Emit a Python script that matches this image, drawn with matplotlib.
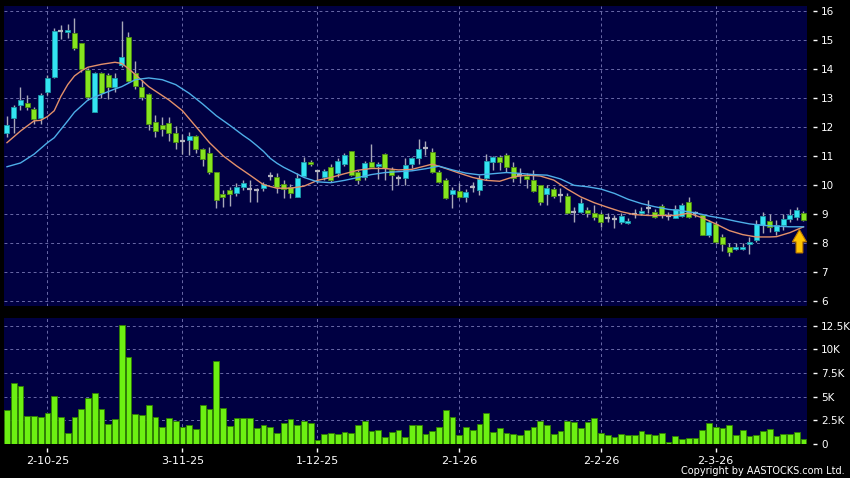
import numpy as np
import matplotlib
matplotlib.use("Agg")
import matplotlib.pyplot as plt
from matplotlib.patches import FancyArrow
from matplotlib.ticker import FuncFormatter

# daily candles, index 0 = first bar on the chart
opens = [11.77, 12.29, 12.75, 12.80, 12.60, 12.29, 13.18, 13.73, 15.31, 15.25,
         15.22, 14.87, 13.95, 12.52, 13.84, 13.77, 13.36, 14.13, 15.08, 13.86,
         13.36, 13.12, 12.17, 12.05, 12.12, 11.77, 11.51, 11.54, 11.69, 11.22,
         11.08, 10.43, 9.68, 9.82, 9.70, 9.91, 9.84, 9.82, 9.88, 10.31,
         10.28, 10.01, 9.93, 9.59, 10.31, 10.79, 10.48, 10.25, 10.60, 10.39,
         10.70, 11.15, 10.43, 10.28, 10.80, 10.64, 11.06, 10.51, 10.22, 10.22,
         10.70, 10.91, 11.25, 11.14, 10.43, 10.15, 9.67, 9.79, 9.56, 9.93,
         9.82, 10.22, 10.79, 10.94, 11.02, 10.62, 10.35, 10.30, 10.16, 9.99,
         9.67, 9.85, 9.64, 9.62, 9.07, 9.07, 9.12, 9.01, 8.99, 8.87,
         8.82, 8.72, 8.67, 8.99, 9.01, 9.21, 9.07, 9.28, 8.93, 8.87,
         8.92, 9.41, 9.02, 8.96, 8.27, 8.64, 8.21, 7.84, 7.77, 7.77,
         7.94, 8.08, 8.60, 8.74, 8.41, 8.61, 8.81, 8.90, 9.02]
highs = [12.37, 12.75, 13.38, 13.09, 12.69, 13.15, 13.78, 15.39, 15.50, 15.55,
         15.74, 14.90, 14.01, 13.90, 13.90, 13.84, 13.84, 15.66, 15.28, 14.27,
         13.61, 13.15, 12.40, 12.32, 12.32, 12.03, 11.75, 11.83, 11.72, 11.25,
         11.30, 10.45, 9.82, 9.92, 10.06, 10.18, 10.15, 9.90, 10.10, 10.45,
         10.40, 10.16, 10.01, 10.40, 10.94, 10.85, 10.50, 10.54, 10.72, 10.91,
         11.08, 11.17, 10.50, 10.82, 11.40, 10.79, 11.08, 10.62, 10.33, 10.91,
         10.97, 11.58, 11.50, 11.25, 10.50, 10.22, 9.93, 10.05, 9.85, 10.10,
         10.33, 11.05, 11.00, 11.02, 11.08, 10.79, 10.56, 10.39, 10.51, 10.00,
         9.99, 9.93, 9.87, 9.70, 9.24, 9.53, 9.24, 9.30, 9.07, 9.01,
         8.95, 9.01, 8.87, 9.18, 9.24, 9.47, 9.18, 9.33, 9.07, 9.30,
         9.36, 9.59, 9.10, 9.00, 8.80, 8.75, 8.30, 8.00, 8.00, 8.00,
         8.20, 8.78, 9.05, 9.00, 8.78, 9.00, 9.15, 9.22, 9.10]
lows = [11.63, 11.77, 12.58, 12.58, 12.11, 12.11, 13.09, 13.67, 15.02, 15.05,
        14.64, 13.90, 12.92, 12.52, 12.98, 12.94, 13.21, 14.05, 13.55, 13.30,
        12.92, 11.88, 11.66, 11.67, 11.49, 11.23, 11.05, 11.02, 11.10, 10.66,
        10.38, 9.20, 9.24, 9.28, 9.60, 9.82, 9.40, 9.40, 9.80, 10.16,
        9.72, 9.53, 9.53, 9.59, 10.27, 10.65, 10.05, 10.16, 10.10, 10.27,
        10.64, 10.30, 10.01, 10.16, 10.60, 10.20, 10.16, 9.82, 9.99, 9.99,
        10.56, 10.70, 11.02, 10.39, 10.05, 9.51, 9.21, 9.53, 9.41, 9.76,
        9.65, 10.16, 10.51, 10.51, 10.45, 10.10, 10.05, 9.88, 9.76, 9.30,
        9.30, 9.53, 9.41, 8.98, 8.72, 9.01, 8.90, 8.79, 8.55, 8.72,
        8.50, 8.64, 8.64, 8.84, 8.95, 9.01, 8.84, 8.84, 8.79, 8.84,
        8.88, 8.84, 8.90, 8.25, 8.20, 7.95, 7.70, 7.55, 7.75, 7.75,
        7.60, 8.03, 8.32, 8.38, 8.27, 8.43, 8.72, 8.80, 8.75]
closes = [12.06, 12.67, 12.92, 12.67, 12.25, 13.08, 13.69, 15.31, 15.31, 15.33,
          14.70, 13.98, 13.03, 13.84, 13.15, 13.36, 13.69, 14.39, 13.58, 13.40,
          13.03, 12.08, 11.85, 11.93, 11.77, 11.46, 11.51, 11.68, 11.22, 10.88,
          10.43, 9.47, 9.57, 9.68, 9.91, 10.05, 9.84, 9.82, 10.02, 10.31,
          9.91, 9.85, 9.70, 10.22, 10.79, 10.70, 10.48, 10.46, 10.18, 10.82,
          11.02, 10.33, 10.16, 10.75, 10.62, 10.72, 10.56, 10.33, 10.22, 10.68,
          10.91, 11.22, 11.25, 10.43, 10.10, 9.53, 9.82, 9.56, 9.76, 9.93,
          10.19, 10.82, 10.94, 10.79, 10.62, 10.22, 10.35, 10.19, 9.79, 9.42,
          9.87, 9.62, 9.64, 9.04, 9.07, 9.36, 9.01, 8.90, 8.72, 8.87,
          8.82, 8.93, 8.76, 8.99, 9.11, 9.21, 8.90, 8.96, 8.93, 9.18,
          9.30, 8.90, 9.02, 8.27, 8.72, 8.03, 7.96, 7.67, 7.84, 7.86,
          8.01, 8.64, 8.91, 8.56, 8.60, 8.81, 8.95, 9.13, 8.77]
volumes = [3600, 6500, 6140, 2970, 2970, 2820, 3250, 5080, 2890, 1200,
           2820, 3710, 4910, 5370, 3670, 2120, 2650, 12600, 9250, 3180,
           3070, 4130, 2820, 1770, 2720, 2470, 1840, 2050, 1550, 4130,
           3670, 8790, 3850, 1940, 2750, 2720, 2790, 1660, 1980, 1840,
           1200, 2260, 2650, 2010, 2470, 2220, 420, 1060, 1160, 1020,
           1240, 1130, 2010, 2400, 1340, 1450, 710, 1270, 1520, 710,
           2010, 2040, 1050, 1335, 1760, 3560, 2850, 980, 1790, 1440,
           2110, 3280, 1300, 1690, 1190, 1090, 910, 1480, 1830, 2460,
           1970, 1090, 1410, 2460, 2320, 1720, 2320, 2750, 1120, 980,
           730, 1020, 910, 910, 1410, 1050, 980, 1160, 200, 800,
           490, 630, 630, 1480, 2220, 1790, 1690, 2040, 980, 1440,
           840, 980, 1410, 1580, 800, 1090, 1090, 1270, 560]

# moving averages (bar index, price)
ma10_idx = [0, 2, 4, 5, 6, 7, 8, 9, 10, 11, 12, 14, 16, 17, 18, 19, 21, 24, 26, 28,
            30, 32, 34, 36, 38, 40, 42, 44, 46, 48, 50, 52, 54, 56, 58, 60, 62, 63, 65, 67,
            69, 71, 73, 75, 77, 79, 81, 83, 85, 87, 89, 91, 93, 95, 97, 99, 101, 103, 105, 107,
            109, 111, 113, 114, 116, 118]
ma10_val = [11.45, 11.85, 12.20, 12.22, 12.35, 12.55, 13.05, 13.45, 13.75, 13.92, 14.05, 14.15,
            14.22, 14.18, 14.00, 13.80, 13.38, 12.92, 12.55, 12.00, 11.45, 11.00, 10.65, 10.33,
            10.00, 9.88, 9.88, 9.95, 10.15, 10.25, 10.38, 10.50, 10.56, 10.56, 10.51, 10.53,
            10.65, 10.71, 10.56, 10.40, 10.25, 10.15, 10.12, 10.27, 10.33, 10.30, 10.16, 9.85,
            9.58, 9.38, 9.22, 9.07, 8.97, 8.94, 8.94, 8.94, 9.02, 8.86, 8.65, 8.42, 8.28, 8.20,
            8.20, 8.21, 8.35, 8.55]
ma20_idx = [0, 2, 4, 6, 7, 9, 10, 12, 14, 16, 17, 19, 21, 23, 25, 27, 29, 31, 33, 35,
            36, 37, 38, 39, 40, 41, 44, 46, 48, 50, 52, 54, 56, 58, 60, 62, 64, 66, 68, 70,
            72, 74, 76, 78, 80, 82, 84, 86, 88, 90, 92, 94, 96, 98, 100, 102, 104, 106, 108, 110,
            112, 114, 116, 118]
ma20_val = [10.62, 10.75, 11.05, 11.45, 11.62, 12.20, 12.50, 12.92, 13.12, 13.30, 13.38, 13.62,
            13.68, 13.62, 13.45, 13.15, 12.78, 12.38, 12.05, 11.70, 11.54, 11.35, 11.15, 10.91,
            10.74, 10.60, 10.25, 10.10, 10.07, 10.15, 10.25, 10.35, 10.42, 10.45, 10.48, 10.55,
            10.64, 10.51, 10.40, 10.34, 10.38, 10.42, 10.39, 10.35, 10.33, 10.20, 9.98, 9.93,
            9.85, 9.70, 9.50, 9.35, 9.24, 9.15, 9.10, 9.03, 8.92, 8.84, 8.74, 8.65, 8.60, 8.57,
            8.55, 8.55]

date_pos = [6, 26, 46, 67, 88, 105]
date_labels = ["2-10-25", "3-11-25", "1-12-25", "2-1-26", "2-2-26", "2-3-26"]
price_ticks = [6, 7, 8, 9, 10, 11, 12, 13, 14, 15, 16]
vol_ticks = [0, 2500, 5000, 7500, 10000, 12500]

BG = "#000042"
GRID = "#6a6aa8"
CYAN = "#33e4f2"
GREEN = "#86e41e"
DOJI = "#b4b4c0"

x = np.arange(len(opens))
o = np.array(opens)
h = np.array(highs)
l = np.array(lows)
c = np.array(closes)
up = c > o
dn = c < o
flat = c == o

fig = plt.figure(figsize=(8.5, 4.78), dpi=100, facecolor="black")
ax = fig.add_axes([4 / 850, 1 - 306 / 478, 803 / 850, 300 / 478], facecolor=BG)
axv = fig.add_axes([4 / 850, 1 - 444 / 478, 803 / 850, 125.7 / 478], facecolor=BG, sharex=ax)

# price panel
ax.vlines(x, l, h, color="#a8a8b8", lw=1, zorder=2)
ax.bar(x[up], (c - o)[up], bottom=o[up], width=0.74, color=CYAN,
       edgecolor="#1b9aa8", lw=0.6, zorder=3)
ax.bar(x[dn], (o - c)[dn], bottom=c[dn], width=0.74, color=GREEN,
       edgecolor="#4c8c12", lw=0.6, zorder=3)
ax.hlines(o[flat], x[flat] - 0.37, x[flat] + 0.37, color=DOJI, lw=1.6, zorder=3)
ax.plot(ma10_idx, ma10_val, color="#e3906a", lw=1, zorder=4)
ax.plot(ma20_idx, ma20_val, color="#4eaee8", lw=1, zorder=4)

# golden cross marker
tip = ma10_val[-1] - 0.1
ax.add_patch(FancyArrow(x[-1] - 0.6, tip - 0.8, 0, 0.8, width=1.0, head_width=2.1,
                        head_length=0.42, length_includes_head=True,
                        fc="#ffc400", ec="#c07a00", lw=0.8, zorder=5))

ax.set_xlim(-0.44, len(opens) - 0.48)
ax.set_ylim(5.82, 16.16)
ax.set_yticks(price_ticks)

# volume panel
axv.bar(x, volumes, width=0.86, color="#6cf012", edgecolor="#2f8000", lw=0.6, zorder=3)
axv.set_ylim(0, 13300)
axv.set_yticks(vol_ticks)
axv.yaxis.set_major_formatter(FuncFormatter(
    lambda v, p: "0" if v == 0 else ("%gK" % (v / 1000))))

for a in (ax, axv):
    a.set_xticks(date_pos)
    a.grid(True, color=GRID, lw=0.7, ls=(0, (3, 3)))
    a.set_axisbelow(True)
    for s in a.spines.values():
        s.set_visible(False)
    a.spines["right"].set_position(("outward", 4))
    a.spines["bottom"].set_position(("outward", 3))
    a.yaxis.tick_right()
    a.tick_params(axis="y", colors="white", labelsize=7.5, length=3, width=1, pad=3)
    a.tick_params(axis="x", colors="white", labelsize=8, length=3, width=1, pad=3)

ax.tick_params(axis="x", bottom=False, labelbottom=False)
axv.set_xticklabels(date_labels)

fig.text(0.994, 0.004, "Copyright by AASTOCKS.com Ltd.", ha="right", va="bottom",
         color="white", fontsize=7)

fig.savefig("out.png", dpi=100, facecolor="black")
